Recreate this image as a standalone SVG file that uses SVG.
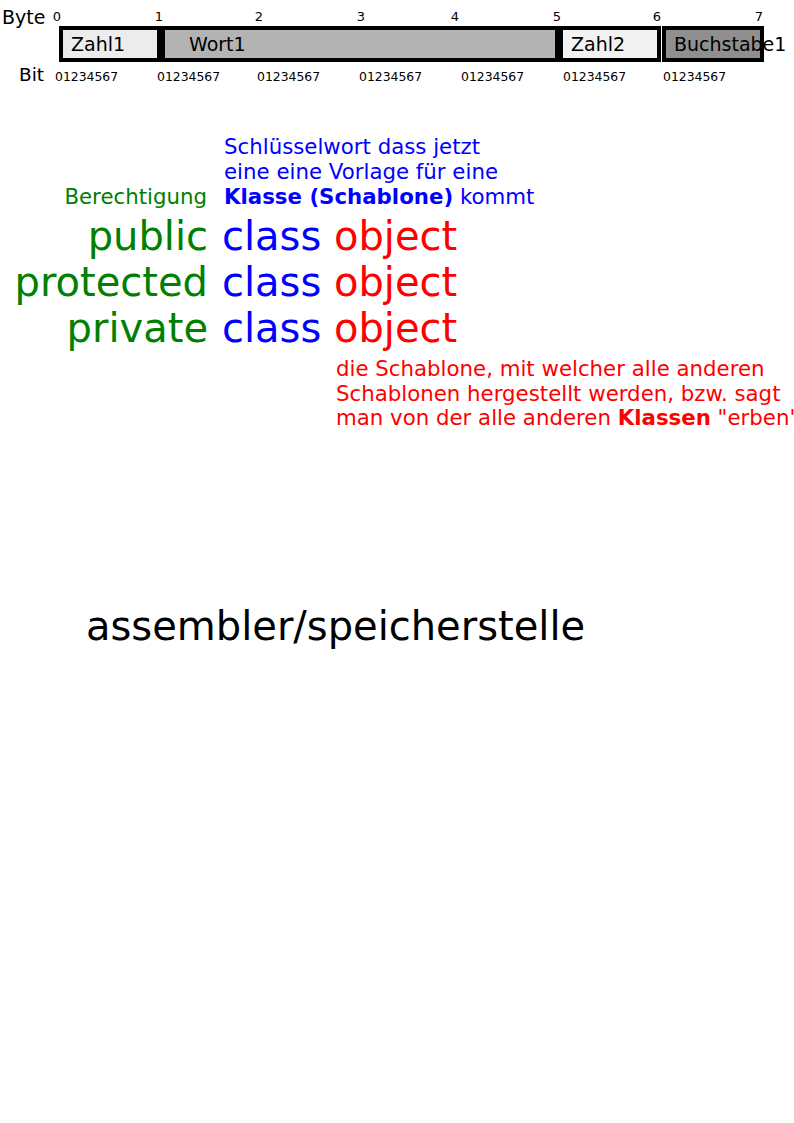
<svg xmlns="http://www.w3.org/2000/svg" width="794" height="1123" viewBox="0 0 794 1123">
<style>
text{font-family:"DejaVu Sans",sans-serif}
.box{stroke:#000;stroke-width:4}
.lbl{font-size:19px;fill:#000}
.num{font-size:13px;fill:#000}
.bit{font-size:12.4px;fill:#000}
.big{font-size:40px}
.g{fill:#008000}
.b{fill:#0000ff}
.r{fill:#ff0000}
.m{font-size:21.3px}
</style>
<rect width="794" height="1123" fill="#fff"/>
<g id="memory">
<text x="2" y="24" font-size="19">Byte</text>
<text x="19" y="81" font-size="18.5">Bit</text>
<g class="num" text-anchor="middle">
<text x="57" y="21">0</text><text x="159" y="21">1</text><text x="259" y="21">2</text><text x="361" y="21">3</text><text x="455" y="21">4</text><text x="557" y="21">5</text><text x="657" y="21">6</text><text x="759" y="21">7</text>
</g>
<g class="bit">
<text x="55" y="81">01234567</text><text x="157" y="81">01234567</text><text x="257" y="81">01234567</text><text x="359" y="81">01234567</text><text x="461" y="81">01234567</text><text x="563" y="81">01234567</text><text x="663" y="81">01234567</text>
</g>
<g id="zahl1"><rect class="box" x="61" y="28" width="98" height="32" fill="#ececec"/><text class="lbl" x="71" y="51">Zahl1</text></g>
<g id="wort1"><rect class="box" x="163" y="28" width="394" height="32" fill="#b3b3b3"/><text class="lbl" x="189" y="51">Wort1</text></g>
<g id="zahl2"><rect class="box" x="561" y="28" width="98" height="32" fill="#f2f2f2"/><text class="lbl" x="571" y="51">Zahl2</text></g>
<g id="buchstabe1"><rect class="box" x="664" y="28" width="98" height="32" fill="#8f8f8f"/><text class="lbl" x="674" y="51">Buchstabe1</text></g>
</g>
<g id="notes">
<text class="m b" x="224" y="154">Schlüsselwort dass jetzt</text>
<text class="m b" x="224" y="179">eine eine Vorlage für eine</text>
<text class="m b" x="224" y="204"><tspan font-weight="bold">Klasse (Schablone)</tspan> kommt</text>
<text class="m g" x="207" y="204" text-anchor="end">Berechtigung</text>
<text class="big g" x="208" y="250" text-anchor="end">public</text>
<text class="big g" x="208" y="296" text-anchor="end">protected</text>
<text class="big g" x="208" y="342" text-anchor="end">private</text>
<text class="big b" x="222" y="250">class</text>
<text class="big b" x="222" y="296">class</text>
<text class="big b" x="222" y="342">class</text>
<text class="big r" x="334" y="250">object</text>
<text class="big r" x="334" y="296">object</text>
<text class="big r" x="334" y="342">object</text>
<text class="m r" x="336" y="376">die Schablone, mit welcher alle anderen</text>
<text class="m r" x="336" y="401">Schablonen hergestellt werden, bzw. sagt</text>
<text class="m r" x="336" y="425">man von der alle anderen <tspan font-weight="bold">Klassen</tspan> "erben"</text>
<text class="big" x="86" y="640" fill="#000">assembler/speicherstelle</text>
</g>
</svg>
